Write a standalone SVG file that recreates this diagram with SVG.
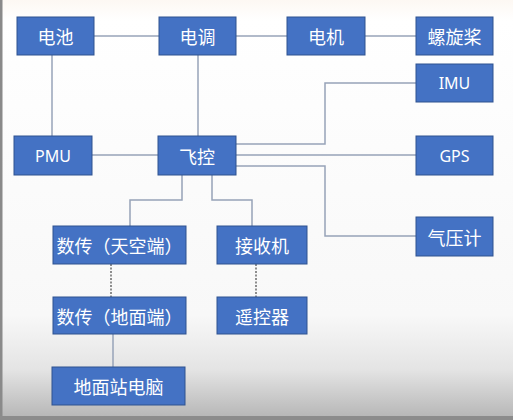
<svg xmlns="http://www.w3.org/2000/svg" width="513" height="420" viewBox="0 0 513 420">
<defs>
<linearGradient id="bg" x1="0" y1="0" x2="0" y2="1">
<stop offset="0" stop-color="#fdf8f3"/>
<stop offset="0.05" stop-color="#ffffff"/>
<stop offset="0.75" stop-color="#f8f8f8"/>
<stop offset="0.88" stop-color="#e4e4e4"/>
<stop offset="1" stop-color="#b4b4b4"/>
</linearGradient>
<style>
.box{fill:#4472c4;stroke:#2f528f;stroke-width:1}
.t{fill:#ffffff;font-family:"Noto Sans CJK SC","Noto Sans",sans-serif;font-size:18px;text-anchor:middle;dominant-baseline:central}
.l{fill:#ffffff;font-family:"Noto Sans","Noto Sans CJK SC",sans-serif;font-size:16px;text-anchor:middle;dominant-baseline:central}
.c{fill:none;stroke:#97a3b8;stroke-width:1.5}
.d{fill:none;stroke:#6a6a6a;stroke-width:1.5;stroke-dasharray:2 1.5}
</style>
</defs>
<rect x="0" y="0" width="513" height="420" fill="url(#bg)"/>
<rect x="0" y="0" width="2.5" height="420" fill="#8a8a8a"/>
<rect x="0" y="416" width="513" height="4" fill="#8c8c8c"/>
<g id="connectors">
<path class="c" d="M94 36H159"/>
<path class="c" d="M236 36H287"/>
<path class="c" d="M365 36H416"/>
<path class="c" d="M52 55V136"/>
<path class="c" d="M198 55V136"/>
<path class="c" d="M92 155H158"/>
<path class="c" d="M236 144H325V83H416"/>
<path class="c" d="M236 155H416"/>
<path class="c" d="M236 166H325V236H416"/>
<path class="c" d="M182 175V200H130V226"/>
<path class="c" d="M212 175V200H252V226"/>
<path class="d" d="M111 264V297"/>
<path class="d" d="M256 264V297"/>
<path class="c" d="M113 334V367"/>
</g>
<g id="battery"><rect class="box" x="17" y="17" width="77" height="38"/><text class="t" x="55.5" y="36">电池</text></g>
<g id="esc"><rect class="box" x="159" y="17" width="77" height="38"/><text class="t" x="197.5" y="36">电调</text></g>
<g id="motor"><rect class="box" x="287" y="17" width="78" height="38"/><text class="t" x="326" y="36">电机</text></g>
<g id="propeller"><rect class="box" x="416" y="17" width="77" height="38"/><text class="t" x="454.5" y="36">螺旋桨</text></g>
<g id="imu"><rect class="box" x="416" y="64" width="77" height="38"/><text class="l" x="454.5" y="83">IMU</text></g>
<g id="pmu"><rect class="box" x="14" y="136" width="78" height="39"/><text class="l" x="53" y="155.5">PMU</text></g>
<g id="fc"><rect class="box" x="158" y="136" width="78" height="39"/><text class="t" x="197" y="155.5">飞控</text></g>
<g id="gps"><rect class="box" x="416" y="136" width="77" height="39"/><text class="l" x="454.5" y="155.5">GPS</text></g>
<g id="barometer"><rect class="box" x="416" y="217" width="77" height="39"/><text class="t" x="454.5" y="236.5">气压计</text></g>
<g id="datalink-air"><rect class="box" x="53" y="226" width="133" height="38"/><text class="t" x="119.5" y="245">数传（天空端）</text></g>
<g id="receiver"><rect class="box" x="217" y="226" width="90" height="38"/><text class="t" x="262" y="245">接收机</text></g>
<g id="datalink-ground"><rect class="box" x="53" y="297" width="133" height="37"/><text class="t" x="119.5" y="315.5">数传（地面端）</text></g>
<g id="remote"><rect class="box" x="217" y="297" width="90" height="37"/><text class="t" x="262" y="315.5">遥控器</text></g>
<g id="gcs"><rect class="box" x="52" y="367" width="133" height="38"/><text class="t" x="118.5" y="386">地面站电脑</text></g>
</svg>
